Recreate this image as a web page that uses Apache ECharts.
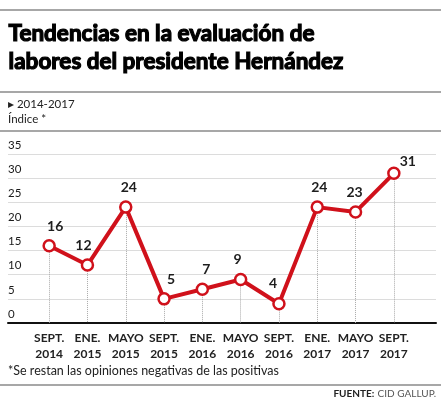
<!DOCTYPE html>
<html><head><meta charset="utf-8">
<script src="https://cdn.jsdelivr.net/npm/echarts@6/dist/echarts.min.js"></script>
<style>html,body{margin:0;padding:0;background:#fff}#c{width:441px;height:400px}</style>
</head><body><div id="c"></div>
<script>
const categories = ['SEPT.\n2014','ENE.\n2015','MAYO\n2015','SEPT.\n2015','ENE.\n2016','MAYO\n2016','SEPT.\n2016','ENE.\n2017','MAYO\n2017','SEPT.\n2017'];
const values = [16, 12, 24, 5, 7, 9, 4, 24, 23, 31];
const yTicks = [0, 5, 10, 15, 20, 25, 30, 35];
const labelOffsets = [[6,0],[-4,0],[3,0],[7,0],[4,0],[-3,0],[-6,0],[2,0],[-1,0],[14,8]];

const chart = echarts.init(document.getElementById('c'), null, {renderer:'canvas'});
const yMin = yTicks[0], yMax = yTicks[yTicks.length-1], yStep = yTicks[1]-yTicks[0];
const sepColor = '#8a8a8a';
const option = {
  animation: false,
  backgroundColor: '#fff',
  grid: [
    {left: 8, right: 5, top: 154, bottom: 77, containLabel: false},
    {left: 30, right: 28, top: 154, bottom: 77, containLabel: false}
  ],
  xAxis: [
    {gridIndex: 0, type: 'value', min: 0, max: 1, show: true,
     axisLine: {show: true, lineStyle: {color: '#111', width: 2}},
     axisTick: {show: false}, axisLabel: {show: false}, splitLine: {show: false}},
    {gridIndex: 1, type: 'category', data: categories, boundaryGap: true,
     axisLine: {show: false}, axisTick: {show: false}, splitLine: {show: false},
     axisLabel: {color: '#222', fontFamily: 'Lato', fontWeight: 'bold', fontSize: 12, lineHeight: 16, margin: 7, interval: 0}}
  ],
  yAxis: [
    {gridIndex: 0, type: 'value', min: yMin, max: yMax, interval: yStep,
     axisLine: {show: false}, axisTick: {show: false},
     splitLine: {show: true, lineStyle: {color: '#dcdcdc', width: 1}},
     axisLabel: {inside: true, verticalAlign: 'bottom', margin: 0, padding: [0,0,3,0], color: '#1a1a1a', fontFamily: 'Lato', fontSize: 11.5,
       formatter: v => yTicks.includes(v) ? String(v) : ''}},
    {gridIndex: 1, type: 'value', min: yMin, max: yMax, interval: yStep, show: false, splitLine: {show: false}}
  ],
  series: [{
    type: 'line', xAxisIndex: 1, yAxisIndex: 1, z: 5,
    data: values.map((v, i) => ({value: v, label: {offset: labelOffsets[i]}})),
    lineStyle: {color: '#d0111b', width: 4},
    itemStyle: {color: '#fff', borderColor: '#d0111b', borderWidth: 2.5},
    symbol: 'circle', symbolSize: 11,
    label: {show: true, position: 'top', distance: 6, color: '#1e1e1e', fontFamily: 'Lato', fontWeight: 'bold', fontSize: 14},
    markLine: {
      silent: true, symbol: 'none', z: 1,
      label: {show: false},
      lineStyle: {color: '#aaa', type: 'dotted', width: 1},
      data: values.map((v, i) => [{xAxis: i, yAxis: v}, {xAxis: i, yAxis: yMin}])
    }
  }],
  graphic: [
    {type: 'line', shape: {x1: 0, y1: 10, x2: 441, y2: 10}, style: {stroke: sepColor, lineWidth: 1.5}},
    {type: 'text', left: 8, top: 22, style: {text: 'Tendencias en la evaluación de', font: 'bold 22.5px Lato', fill: '#000', stroke: '#000', lineWidth: 1.2}},
    {type: 'text', left: 8, top: 50, style: {text: 'labores del presidente Hernández', font: 'bold 22.5px Lato', fill: '#000', stroke: '#000', lineWidth: 1.2}},
    {type: 'line', shape: {x1: 0, y1: 92, x2: 441, y2: 92}, style: {stroke: sepColor, lineWidth: 1.5}},
    {type: 'text', left: 8, top: 98, style: {text: '▸ 2014-2017', font: '11.5px Lato', fill: '#222'}},
    {type: 'text', left: 8, top: 113, style: {text: 'Índice *', font: '11.5px Lato', fill: '#222'}},
    {type: 'line', shape: {x1: 0, y1: 131, x2: 441, y2: 131}, style: {stroke: sepColor, lineWidth: 1.5}},
    {type: 'text', left: 8, top: 364, style: {text: '*Se restan las opiniones negativas de las positivas', font: '12.5px Lato', fill: '#222'}},
    {type: 'line', shape: {x1: 0, y1: 385, x2: 441, y2: 385}, style: {stroke: sepColor, lineWidth: 1.5}},
    {type: 'text', right: 5, top: 388, style: {rich: {b: {font: 'bold 10px Lato', fill: '#222'}, n: {font: '10px Lato', fill: '#555'}}, text: '{b|FUENTE:} {n|CID GALLUP.}'}}
  ]
};
chart.setOption(option);
</script></body></html>
